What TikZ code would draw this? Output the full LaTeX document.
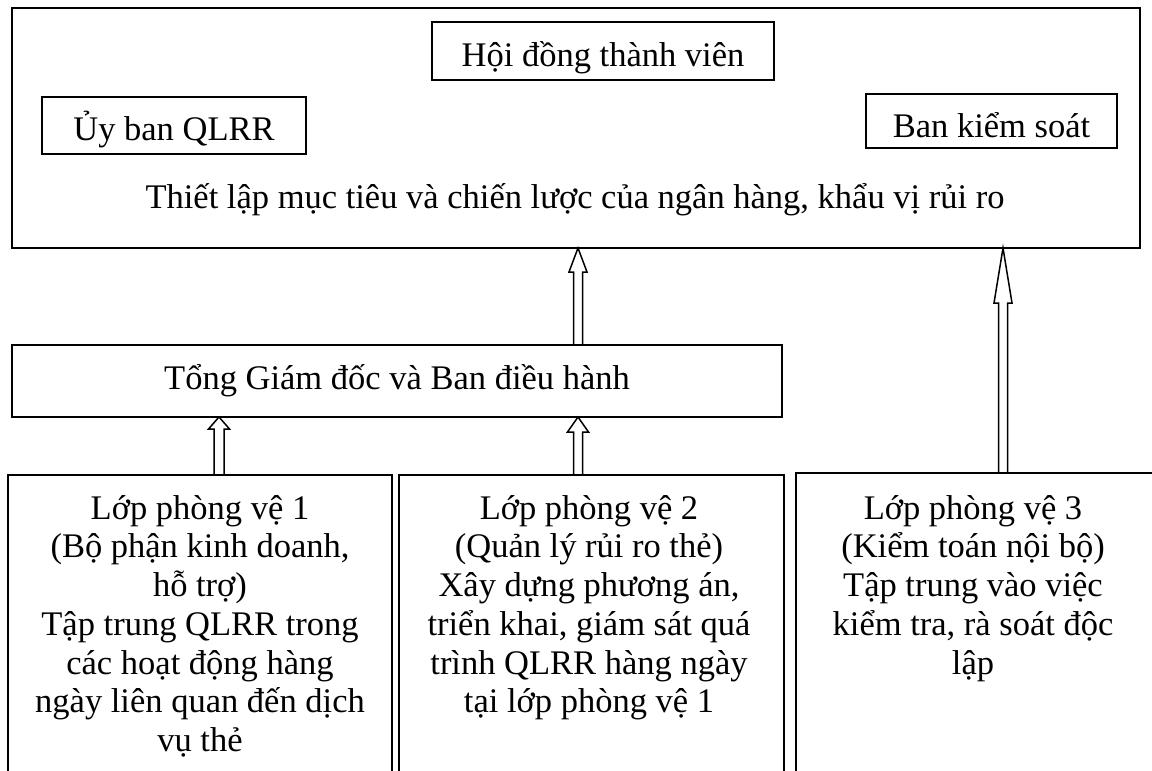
\documentclass[tikz,border=0pt]{standalone}
\usepackage{fontspec}
\setmainfont{Liberation Serif}
\usetikzlibrary{calc}
% hollow block arrow: #1 foot, #2 tip, #3 half shaft width, #4 half head width, #5 head length
\newcommand\hollowarrow[5]{%
  \draw[hollow] let \p1=(#1), \p2=(#2) in
    (\x1-#3,\y1) -- (\x1-#3,\y2-#5) -- (\x1-#4,\y2-#5) -- (\x1,\y2)
    -- (\x1+#4,\y2-#5) -- (\x1+#3,\y2-#5) -- (\x1+#3,\y1);}
\begin{document}
\begin{tikzpicture}[x=1pt,y=-1pt,
  box/.style={draw, line width=1.5pt, outer sep=0pt, inner sep=0pt},
  lbl/.style={font=\fontsize{34.5}{38.7}\selectfont, inner sep=0pt, align=center},
  hollow/.style={draw, line width=1.5pt, line join=miter}]
\useasboundingbox (0,0) rectangle (1152,771);
\clip (0,0) rectangle (1152,771);

% governing level
\node[box, minimum width=1128pt, minimum height=240pt] (board) at (576,128) {};
\node[box, lbl, minimum width=342pt, minimum height=58pt, text height=37pt, text depth=7pt] (hdtv) at (603,51) {Hội đồng thành viên};
\node[box, lbl, minimum width=264pt, minimum height=57pt, text height=36pt, text depth=7pt] (qlrr) at (174,125.5) {Ủy ban QLRR};
\node[box, lbl, minimum width=251pt, minimum height=54pt, text height=39pt, text depth=7pt] (bks) at (991.5,121) {Ban kiểm soát};
\node[lbl, anchor=base] (goal) at (575,208) {Thiết lập mục tiêu và chiến lược của ngân hàng, khẩu vị rủi ro};

% executive level
\node[box, lbl, minimum width=770pt, minimum height=72pt, text height=23pt, text depth=7pt] (exec) at (397,381) {Tổng Giám đốc và Ban điều hành};

% three lines of defence (open at the bottom)
\node[box, minimum width=384pt, minimum height=340pt, anchor=north] (l1) at (200,475) {};
\node[box, minimum width=385pt, minimum height=340pt, anchor=north] (l2) at (591.5,475) {};
\node[box, minimum width=370pt, minimum height=340pt, anchor=north] (l3) at (981,473) {};

\node[lbl, anchor=north] (l1t) at (200,495) {Lớp phòng vệ 1\\(Bộ phận kinh doanh,\\hỗ trợ)\\Tập trung QLRR trong\\các hoạt động hàng\\ngày liên quan đến dịch\\vụ thẻ};
\node[lbl, anchor=north] (l2t) at (589,495) {Lớp phòng vệ 2\\(Quản lý rủi ro thẻ)\\Xây dựng phương án,\\triển khai, giám sát quá\\trình QLRR hàng ngày\\tại lớp phòng vệ 1};
\node[lbl, anchor=north] (l3t) at (973,495) {Lớp phòng vệ 3\\(Kiểm toán nội bộ)\\Tập trung vào việc\\kiểm tra, rà soát độc\\lập};

% reporting arrows
\coordinate (xa) at (578,0);
\coordinate (xb) at (1003,0);
\coordinate (xc) at (219,0);
\hollowarrow{xa |- exec.north}{xa |- board.south}{4.5pt}{9pt}{24pt}
\hollowarrow{xb |- l3.north}{xb |- board.south}{4.5pt}{9pt}{55pt}
\hollowarrow{xc |- l1.north}{xc |- exec.south}{5pt}{10.5pt}{12pt}
\hollowarrow{xa |- l2.north}{xa |- exec.south}{4.5pt}{10.5pt}{15pt}
\end{tikzpicture}
\end{document}
